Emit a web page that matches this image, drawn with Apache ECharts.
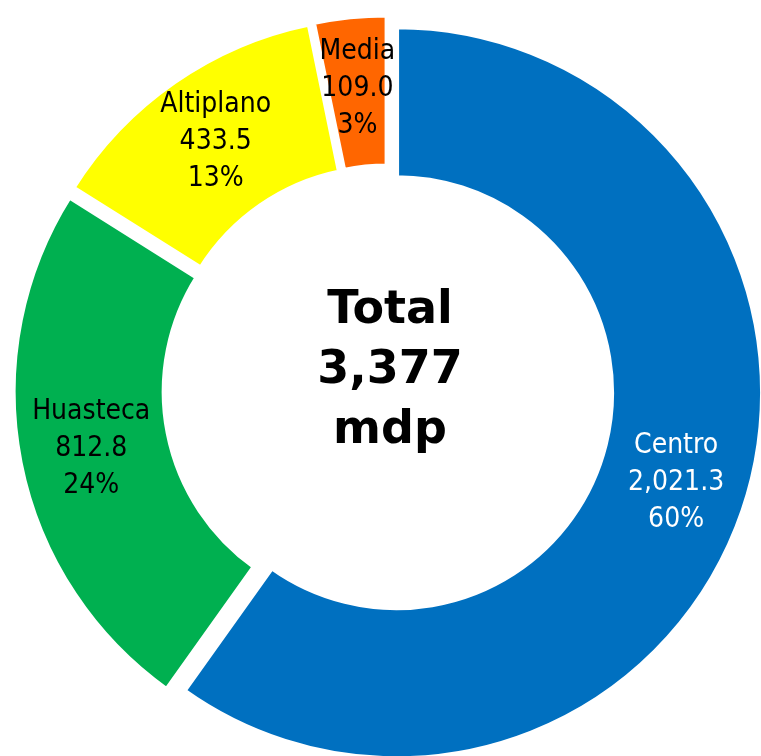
<!DOCTYPE html>
<html>
<head>
<meta charset="utf-8">
<script src="https://cdn.jsdelivr.net/npm/echarts@6/dist/echarts.min.js"></script>
<style>html,body{margin:0;padding:0;background:#fff}#c{width:761px;height:756px}</style>
</head>
<body>
<div id="c"></div>
<script>
const categories = ['Centro', 'Huasteca', 'Altiplano', 'Media'];
const values = [2021.3, 812.8, 433.5, 109.0];
const colors = ['#0070C0', '#00B050', '#FFFF00', '#FF6600'];
const labelColors = ['#ffffff', '#000000', '#000000', '#000000'];
const totalLabel = ['Total', '3,377', 'mdp'];

const fmt = v => v.toLocaleString('en-US', {minimumFractionDigits: 1, maximumFractionDigits: 1});

const chart = echarts.init(document.getElementById('c'), null, {renderer: 'canvas'});
chart.setOption({
  animation: false,
  backgroundColor: '#ffffff',
  graphic: [{
    type: 'text',
    x: 390, y: 371,
    style: {
      text: totalLabel.join('\n'),
      font: 'bold 46px "DejaVu Sans"',
      lineHeight: 60,
      fill: '#000',
      align: 'center',
      verticalAlign: 'middle'
    }
  }],
  series: [{
    type: 'pie',
    center: [388, 390],
    radius: [215, 366],
    startAngle: 90,
    clockwise: true,
    selectedMode: 'multiple',
    selectedOffset: 9,
    percentPrecision: 0,
    avoidLabelOverlap: false,
    itemStyle: {borderColor: '#ffffff', borderWidth: 5},
    emphasis: {disabled: true},
    label: {
      show: true,
      position: 'inside',
      fontFamily: '"DejaVu Sans Condensed", "DejaVu Sans"',
      fontSize: 28,
      lineHeight: 37,
      align: 'center',
      formatter: p => p.name + '\n' + fmt(p.value) + '\n' + p.percent + '%'
    },
    labelLine: {show: false},
    data: categories.map((n, i) => ({
      name: n,
      value: values[i],
      selected: true,
      itemStyle: {color: colors[i]},
      label: {color: labelColors[i]}
    }))
  }]
});
</script>
</body>
</html>
